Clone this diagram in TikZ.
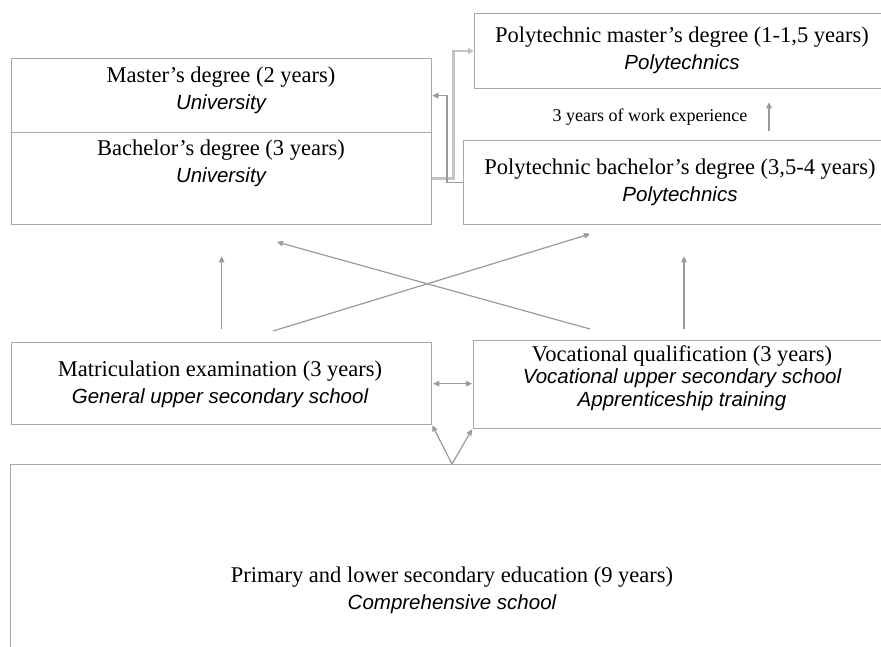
\documentclass[tikz,border=0pt]{standalone}
\usepackage{fontspec}
\setmainfont{Liberation Serif}
\newfontfamily\subf{Liberation Sans}
\usetikzlibrary{arrows.meta}
\definecolor{boxgray}{HTML}{A8A8A8}
\definecolor{arrgray}{HTML}{9A9A9A}
\definecolor{lightgray2}{HTML}{C4C4C4}
\newcommand{\st}[1]{{\subf\itshape\fontsize{20.5}{26}\selectfont #1}}
\begin{document}
\begin{tikzpicture}[x=1pt,y=-1pt,
  boxnode/.style={draw=boxgray,line width=1.3pt,inner sep=0pt,anchor=north west},
  txt/.style={align=center,font=\fontsize{22.5}{27}\selectfont,inner sep=0pt},
  arr/.style={draw=arrgray,line width=1.2pt,-{Triangle[length=6pt,width=5.5pt]}},
  darr/.style={draw=arrgray,line width=1.2pt,{Triangle[length=6pt,width=5.5pt]}-{Triangle[length=6pt,width=5.5pt]}},
  larr/.style={draw=lightgray2,line width=2.4pt,-{Triangle[length=6pt,width=6pt]}}]
\useasboundingbox (0,0) rectangle (881,646);
\clip (0,0) rectangle (881,646);
\fill[white] (0,0) rectangle (881,646);
% boxes
\node[boxnode,minimum width=420pt,minimum height=74pt] (mast) at (11,58) {};
\node[boxnode,minimum width=420pt,minimum height=92pt] (bach) at (11,132) {};
\node[boxnode,minimum width=416pt,minimum height=75pt] (pm) at (474,13) {};
\node[boxnode,minimum width=434pt,minimum height=84pt] (pb) at (463,140) {};
\node[boxnode,minimum width=420pt,minimum height=82pt] (mat) at (11,342) {};
\node[boxnode,minimum width=418pt,minimum height=88pt] (voc) at (473,340) {};
\node[boxnode,minimum width=884pt,minimum height=250pt] (prim) at (10,464) {};
% texts
\node[txt] (tmast) at (221,90) {Master’s degree (2 years)\\\st{University}};
\node[txt] (tbach) at (221,163) {Bachelor’s degree (3 years)\\\st{University}};
\node[txt] (tpm) at (682,50) {Polytechnic master’s degree (1-1,5 years)\\\st{Polytechnics}};
\node[txt] (tpb) at (680,182) {Polytechnic bachelor’s degree (3,5-4 years)\\\st{Polytechnics}};
\node[txt] (tmat) at (220,384) {Matriculation examination (3 years)\\\st{General upper secondary school}};
\node[txt,font=\fontsize{22.5}{22.5}\selectfont] (tvoc) at (682,378) {Vocational qualification (3 years)\\\st{Vocational upper secondary school}\\\st{Apprenticeship training}};
\node[txt] (tprim) at (452,590) {Primary and lower secondary education (9 years)\\\st{Comprehensive school}};
\node[inner sep=0pt,font=\fontsize{18}{20}\selectfont] (twork) at (650,117) {3 years of work experience};
% connectors
\coordinate (wx) at (769,0);
\coordinate (rx) at (684,0);
\coordinate (c1a) at (273,331);
\coordinate (c1b) at (590,234);
\coordinate (c2a) at (590,329);
\coordinate (c2b) at (277,242);
\coordinate (apex) at (452,464);
\draw[larr] (bach.east) -- ++(21,0) |- (pm.west);
\draw[arr] (pb.west) -- ++(-16,0) |- (mast.east);
\draw[arr,shorten <=9pt,shorten >=13pt] (pb.north -| wx) -- (pm.south -| wx);
\draw[arr,shorten <=13pt,shorten >=31pt] (mat.north) -- (bach.south);
\draw[arr,shorten <=11pt,shorten >=31pt] (voc.north -| rx) -- (pb.south -| rx);
\draw[arr] (c1a) -- (c1b);
\draw[arr] (c2a) -- (c2b);
\draw[darr,shorten <=1pt,shorten >=1pt] (mat.east) -- (mat.east -| voc.west);
\draw[arr] (apex) -- (mat.south east);
\draw[arr] (apex) -- ([xshift=-1pt]voc.south west);
\end{tikzpicture}
\end{document}
